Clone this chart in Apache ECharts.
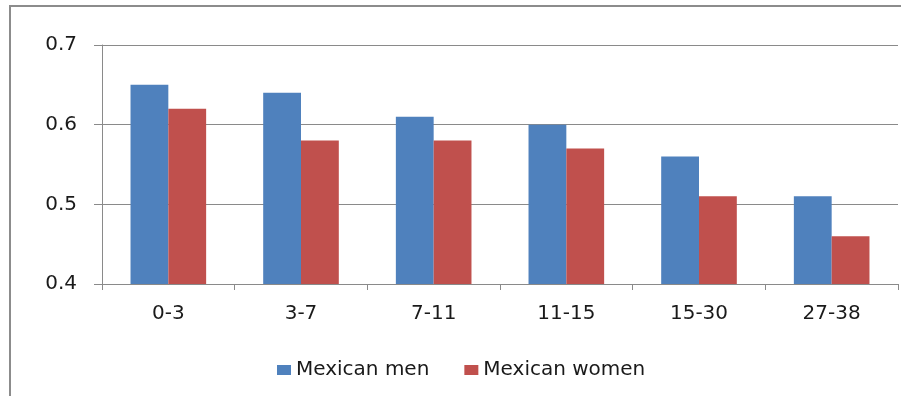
<!DOCTYPE html>
<html>
<head>
<meta charset="utf-8">
<script src="https://cdn.jsdelivr.net/npm/echarts@6/dist/echarts.min.js"></script>
<style>
  html, body { margin: 0; padding: 0; background: #fff; }
  #frame { position: absolute; left: 9px; top: 5px; width: 900px; height: 400px; border: 2px solid #8c8c8c; box-sizing: border-box; }
  #chart { position: absolute; left: 0; top: 0; width: 901px; height: 396px; }
</style>
</head>
<body>
<div id="frame"></div>
<div id="chart"></div>
<script>
// Age-group categories and the value for each group
const categories = ['0-3', '3-7', '7-11', '11-15', '15-30', '27-38'];
const menValues = [0.65, 0.64, 0.61, 0.60, 0.56, 0.51];
const womenValues = [0.62, 0.58, 0.58, 0.57, 0.51, 0.46];
const seriesNames = ['Mexican men', 'Mexican women'];

const axisGray = '#8a8a8a';
const textStyle = { fontFamily: 'DejaVu Sans', fontSize: 20, color: '#1a1a1a' };

const chart = echarts.init(document.getElementById('chart'), null, { renderer: 'canvas' });
chart.setOption({
  animation: false,
  backgroundColor: 'transparent',
  grid: { left: 102, right: 3, top: 45, bottom: 112 },
  legend: {
    top: 360,
    left: 277,
    padding: 0,
    itemWidth: 14,
    itemHeight: 10,
    itemGap: 35,
    icon: 'rect',
    textStyle: textStyle,
    data: seriesNames
  },
  xAxis: {
    type: 'category',
    data: categories,
    axisLine: { lineStyle: { color: axisGray, width: 1 } },
    axisTick: { show: true, length: 6, lineStyle: { color: axisGray } },
    axisLabel: Object.assign({ margin: 20 }, textStyle),
    splitLine: { show: false }
  },
  yAxis: {
    type: 'value',
    min: 0.4,
    max: 0.7,
    interval: 0.1,
    axisLine: { show: true, lineStyle: { color: axisGray, width: 1 } },
    axisTick: { show: true, length: 8, inside: false, lineStyle: { color: axisGray } },
    axisLabel: Object.assign({ margin: 25, formatter: v => v.toFixed(1) }, textStyle),
    splitLine: { show: true, lineStyle: { color: axisGray, width: 1 } }
  },
  series: [
    { name: seriesNames[0], type: 'bar', data: menValues, barGap: '0%', barCategoryGap: '43%', itemStyle: { color: '#4f81bd' } },
    { name: seriesNames[1], type: 'bar', data: womenValues, barGap: '0%', barCategoryGap: '43%', itemStyle: { color: '#c0504d' } }
  ]
});
</script>
</body>
</html>
